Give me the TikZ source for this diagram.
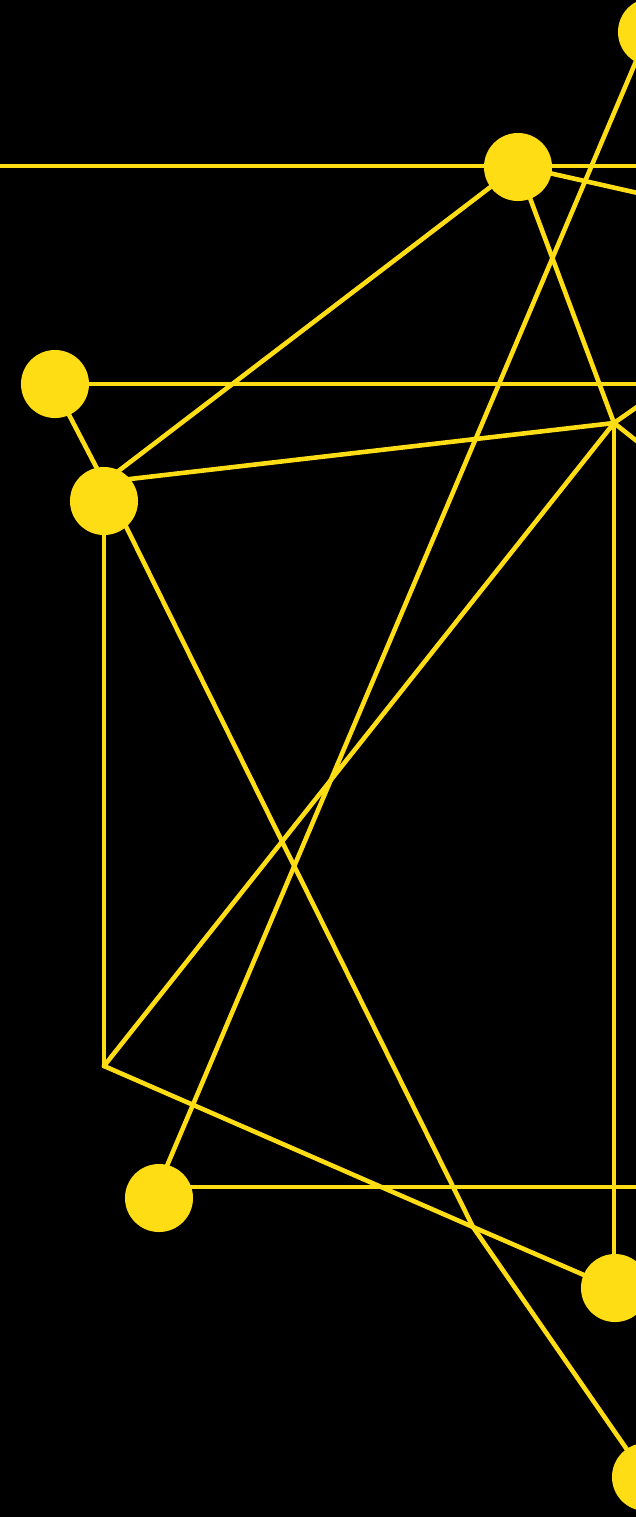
\documentclass[tikz,border=0pt]{standalone}
\usepackage{xcolor}
\usepackage{tikz}
\usetikzlibrary{positioning}
\definecolor{netyellow}{RGB}{255,221,21}

\begin{document}
\begin{tikzpicture}[
  x=0.01cm,y=-0.01cm,
  dot/.style ={circle,fill=netyellow,minimum size=0.68cm,inner sep=0pt},
  conn/.style={netyellow,line width=1.3pt,line cap=round,line join=round}
]
\fill[black] (0,0) rectangle (636,1517);
\useasboundingbox (0,0) rectangle (636,1517);
\clip (0,0) rectangle (636,1517);
% vertices of the net
\coordinate (va) at (648,33);
\coordinate (vb) at (518,166);
\coordinate (vc) at (53,384);
\coordinate (vj) at (104,482);
\coordinate (vp) at (614,423);
\coordinate (vq) at (104,1066);
\coordinate (vf) at (158,1187);
\coordinate (vx) at (473,1227);
\coordinate (ve) at (614,1288);
\coordinate (vg) at (646,1477);
% loose ends past the border
\coordinate (lh) at (-10,166);
\coordinate (rh) at (700,166);
\coordinate (rb) at (700,207);
\coordinate (rc) at (700,384);
\coordinate (ru) at (700,363);
\coordinate (rd) at (700,491);
\coordinate (rf) at (700,1187);
\foreach \s/\d in {lh/rh,vb/rb,vc/rc,vp/ru,vp/rd,vf/rf,
                   va/vf,vb/vj,vb/vp,vc/vj,vj/vp,vj/vq,vj/vx,vx/vg,
                   vp/ve,vq/vp,vq/vx,vx/ve}
  \draw[conn] (\s)--(\d);
% dots
\node[dot] (a) at (652,32)   {};
\node[dot] (b) at (518,167)  {};
\node[dot] (c) at (55,384)   {};
\node[dot] (d) at (104,501)  {};
\node[dot] (f) at (159,1198) {};
\node[dot] (e) at (615,1288) {};
\node[dot] (g) at (646,1477) {};
\end{tikzpicture}
\end{document}
